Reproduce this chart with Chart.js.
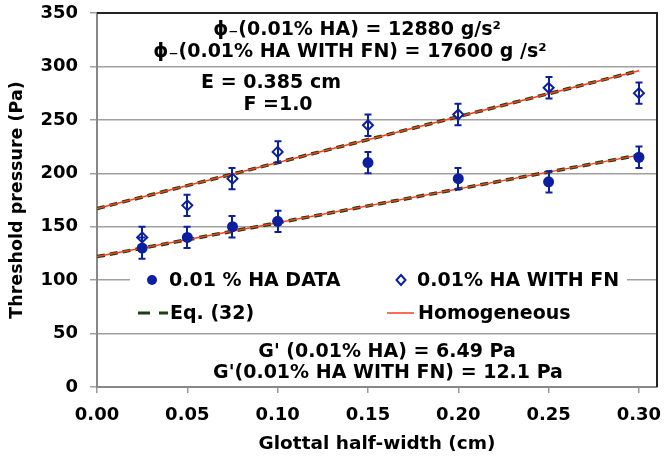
<!DOCTYPE html>
<html>
<head>
<meta charset="utf-8">
<script src="https://cdn.jsdelivr.net/npm/chart.js@4.4.1/dist/chart.umd.min.js"></script>
<style>
  html, body { margin: 0; padding: 0; background: #fff; }
  #wrap { width: 664px; height: 463px; }
</style>
</head>
<body>
<div id="wrap"><canvas id="chart"></canvas></div>
<script>
// data
const halfWidth = [0.025, 0.05, 0.075, 0.1, 0.15, 0.2, 0.25, 0.3];
const haData = [130, 140, 150, 155, 210, 195, 192, 215];
const fnData = [140, 170, 195, 220, 245, 255, 280, 275];
const errBar = [10, 10, 10, 10, 10, 10, 10, 10];
const lineX = [0, 0.3];
const eqHa = [122, 217];
const eqFn = [167, 296];
const homHa = [122, 217];
const homFn = [167, 296];
const yTicks = [0, 50, 100, 150, 200, 250, 300, 350];
const xTicks = [0, 0.05, 0.1, 0.15, 0.2, 0.25, 0.3];

const BLUE = '#0c1f9e';
const RED = '#ff3b1f';
const GREEN = '#17430f';
const FONT = 'DejaVu Sans';

function pts(xs, ys) {
  return xs.map((x, i) => ({ x: x, y: ys[i] }));
}

// error bars + legend box + frame + text notes
const extras = {
  id: 'extras',
  beforeDatasetsDraw(chart) {
    const ctx = chart.ctx;
    // legend background covers the gridline
    ctx.save();
    ctx.fillStyle = '#fff';
    ctx.fillRect(130, 262, 497, 69);
    ctx.restore();
  },
  afterDatasetsDraw(chart) {
    const ctx = chart.ctx;
    const xs = chart.scales.x, ys = chart.scales.y;
    ctx.save();
    ctx.strokeStyle = BLUE;
    ctx.lineWidth = 2;
    [haData, fnData].forEach(series => {
      series.forEach((v, i) => {
        const px = Math.round(xs.getPixelForValue(halfWidth[i]));
        const top = ys.getPixelForValue(v + errBar[i]);
        const bot = ys.getPixelForValue(v - errBar[i]);
        ctx.beginPath();
        ctx.moveTo(px, top); ctx.lineTo(px, bot);
        ctx.moveTo(px - 3.5, top); ctx.lineTo(px + 3.5, top);
        ctx.moveTo(px - 3.5, bot); ctx.lineTo(px + 3.5, bot);
        ctx.stroke();
      });
    });
    ctx.restore();
  },
  afterDraw(chart) {
    const ctx = chart.ctx;
    const a = chart.chartArea;
    ctx.save();
    // top and right frame
    ctx.strokeStyle = '#222';
    ctx.lineWidth = 2;
    ctx.beginPath();
    ctx.moveTo(a.left, a.top);
    ctx.lineTo(a.right, a.top);
    ctx.lineTo(a.right, a.bottom);
    ctx.stroke();

    // legend
    ctx.font = 'bold 19px "' + FONT + '"';
    ctx.textBaseline = 'middle';
    ctx.textAlign = 'left';
    ctx.fillStyle = BLUE;
    ctx.beginPath(); ctx.arc(152, 280, 5, 0, Math.PI * 2); ctx.fill();
    ctx.strokeStyle = BLUE; ctx.lineWidth = 2;
    ctx.beginPath();
    ctx.moveTo(401, 275); ctx.lineTo(405.5, 280); ctx.lineTo(401, 285); ctx.lineTo(396.5, 280); ctx.closePath();
    ctx.stroke();
    ctx.strokeStyle = GREEN; ctx.lineWidth = 3; ctx.setLineDash([12, 9]);
    ctx.beginPath(); ctx.moveTo(138, 313); ctx.lineTo(168, 313); ctx.stroke();
    ctx.setLineDash([]);
    ctx.strokeStyle = RED; ctx.lineWidth = 1.5;
    ctx.beginPath(); ctx.moveTo(387, 313); ctx.lineTo(414, 313); ctx.stroke();
    ctx.fillStyle = '#000';
    ctx.fillText('0.01 % HA DATA', 169, 281);
    ctx.fillText('0.01% HA WITH FN', 417, 281);
    ctx.fillText('Eq. (32)', 170, 314);
    ctx.fillText('Homogeneous', 418, 314);

    // notes
    ctx.textAlign = 'center';
    ctx.fillText('\u03d5\u208b(0.01% HA) = 12880 g/s\u00b2', 357, 30);
    ctx.fillText('\u03d5\u208b(0.01% HA WITH FN) = 17600 g /s\u00b2', 350, 52);
    ctx.fillText('E = 0.385 cm', 271, 83);
    ctx.fillText('F =1.0', 278, 105);
    ctx.fillText("G' (0.01% HA) = 6.49 Pa", 387, 352);
    ctx.fillText("G'(0.01% HA WITH FN) = 12.1 Pa", 388, 373);
    ctx.restore();
  }
};

new Chart(document.getElementById('chart'), {
  type: 'scatter',
  data: {
    datasets: [
      {
        label: '0.01 % HA DATA',
        data: pts(halfWidth, haData),
        pointStyle: 'circle',
        pointRadius: 5.5,
        backgroundColor: BLUE,
        borderColor: BLUE,
        borderWidth: 0,
        order: 0
      },
      {
        label: '0.01% HA WITH FN',
        data: pts(halfWidth, fnData),
        pointStyle: 'rectRot',
        pointRadius: 5,
        backgroundColor: '#fff',
        borderColor: BLUE,
        borderWidth: 2,
        order: 0
      },
      {
        label: 'Homogeneous',
        data: pts(lineX, homHa),
        showLine: true,
        pointRadius: 0,
        borderColor: RED,
        borderWidth: 1.5,
        order: 1
      },
      {
        label: 'Homogeneous FN',
        data: pts(lineX, homFn),
        showLine: true,
        pointRadius: 0,
        borderColor: RED,
        borderWidth: 1.5,
        order: 1
      },
      {
        label: 'Eq. (32)',
        data: pts(lineX, eqHa),
        showLine: true,
        pointRadius: 0,
        borderColor: GREEN,
        borderWidth: 3.5,
        borderDash: [8, 5],
        order: 2
      },
      {
        label: 'Eq. (32) FN',
        data: pts(lineX, eqFn),
        showLine: true,
        pointRadius: 0,
        borderColor: GREEN,
        borderWidth: 3.5,
        borderDash: [8, 5],
        order: 2
      }
    ]
  },
  options: {
    responsive: true,
    maintainAspectRatio: false,
    animation: false,
    layout: {
      padding: { top: 13, right: 7, left: 0, bottom: 0 }
    },
    plugins: {
      legend: { display: false },
      tooltip: { enabled: false }
    },
    scales: {
      x: {
        type: 'linear',
        min: 0,
        max: 0.31,
        afterFit: function(scale) {
          scale.height = 76;
          scale.paddingLeft = 0;
          scale.paddingRight = 0;
        },
        afterBuildTicks: function(scale) {
          scale.ticks = xTicks.map(v => ({ value: v }));
        },
        ticks: {
          padding: 12,
          color: '#000',
          font: { family: FONT, size: 18, weight: 'bold' },
          callback: v => Number(v).toFixed(2),
          maxRotation: 0,
          autoSkip: false
        },
        grid: {
          drawOnChartArea: false,
          drawTicks: true,
          tickLength: 6,
          color: '#999',
          lineWidth: 1.5
        },
        border: { display: true, color: '#888', width: 2 },
        title: {
          display: true,
          text: 'Glottal half-width (cm)',
          color: '#000',
          font: { family: FONT, size: 18.5, weight: 'bold' },
          padding: { top: 0, bottom: 8 }
        }
      },
      y: {
        min: 0,
        max: 350,
        afterFit: function(scale) {
          scale.width = 97;
          scale.paddingTop = 0;
          scale.paddingBottom = 0;
        },
        afterBuildTicks: function(scale) {
          scale.ticks = yTicks.map(v => ({ value: v }));
        },
        ticks: {
          padding: 12,
          color: '#000',
          font: { family: FONT, size: 18, weight: 'bold' }
        },
        grid: {
          drawTicks: true,
          tickLength: 7,
          color: '#a0a0a0',
          lineWidth: 1.5
        },
        border: { display: true, color: '#888', width: 2 },
        title: {
          display: true,
          text: 'Threshold pressure (Pa)',
          color: '#000',
          font: { family: FONT, size: 17.5, weight: 'bold' },
          padding: { top: 7, bottom: 0 }
        }
      }
    }
  },
  plugins: [extras]
});
</script>
</body>
</html>
